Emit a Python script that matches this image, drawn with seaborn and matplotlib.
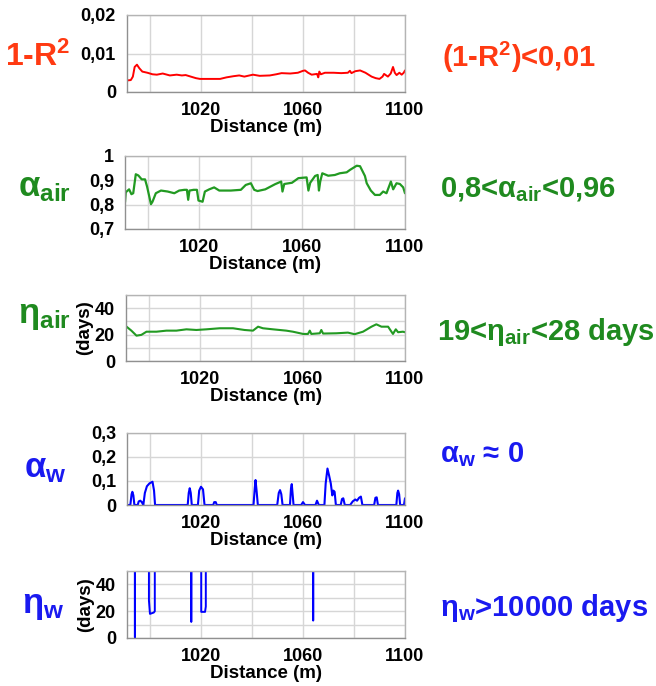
import numpy as np
import matplotlib
matplotlib.use("Agg")
import matplotlib.pyplot as plt
import seaborn as sns
from matplotlib.ticker import FixedLocator, MultipleLocator

# ---- data: distance along the profile (m) and fitted parameters ----
r2_dist = [991.0, 992.5, 993.3, 994.0, 994.9, 995.8, 997.0, 999.0, 1001.0, 1002.7,
           1005.0, 1007.8, 1010.5, 1012.5, 1014.0, 1016.0, 1018.0, 1019.6, 1023.0,
           1027.5, 1030.0, 1032.7, 1035.0, 1037.0, 1040.4, 1043.0, 1047.0, 1049.5,
           1051.6, 1055.0, 1058.0, 1060.0, 1060.8, 1062.0, 1063.4, 1065.5, 1066.0,
           1066.4, 1067.0, 1068.6, 1072.0, 1075.0, 1077.6, 1078.4, 1079.0, 1080.5,
           1082.4, 1084.5, 1086.9, 1088.5, 1090.0, 1091.2, 1091.8, 1093.3, 1094.4,
           1095.3, 1096.0, 1096.7, 1097.8, 1098.7, 1099.5, 1100.0]
one_minus_r2 = [0.0030, 0.0031, 0.0040, 0.0065, 0.0071, 0.0062, 0.0053, 0.0050, 0.0046,
                0.0045, 0.0048, 0.0043, 0.0045, 0.0043, 0.0044, 0.0040, 0.0036, 0.0034,
                0.0034, 0.0034, 0.0038, 0.0041, 0.0043, 0.0040, 0.0045, 0.0042, 0.0043,
                0.0046, 0.0049, 0.0048, 0.0050, 0.0055, 0.0056, 0.0050, 0.0045, 0.0047,
                0.0038, 0.0053, 0.0046, 0.0050, 0.0050, 0.0049, 0.0050, 0.0055, 0.0049,
                0.0054, 0.0056, 0.0050, 0.0040, 0.0036, 0.0034, 0.0040, 0.0047, 0.0040,
                0.0048, 0.0065, 0.0050, 0.0044, 0.0050, 0.0045, 0.0050, 0.0056]

aair_dist = [991.0, 991.3, 992.6, 993.5, 994.2, 995.2, 996.2, 997.5, 998.8, 999.6,
             1000.4, 1001.1, 1001.7, 1003.0, 1005.0, 1007.6, 1010.2, 1012.1, 1014.1,
             1015.1, 1015.6, 1016.1, 1017.7, 1019.0, 1019.6, 1021.2, 1022.1, 1023.8,
             1025.7, 1027.7, 1032.2, 1036.1, 1038.0, 1040.0, 1041.3, 1042.6, 1045.6,
             1049.4, 1051.8, 1052.3, 1053.0, 1056.0, 1058.5, 1061.7, 1062.4, 1063.1,
             1065.0, 1066.0, 1066.5, 1067.0, 1067.8, 1070.1, 1072.7, 1074.6, 1077.3,
             1078.6, 1081.2, 1082.5, 1084.4, 1085.1, 1086.7, 1088.3, 1090.2, 1091.5,
             1092.8, 1094.5, 1095.4, 1096.7, 1098.0, 1099.3, 1100.0]
alpha_air = [0.810, 0.851, 0.863, 0.843, 0.847, 0.925, 0.920, 0.904, 0.904, 0.874,
             0.836, 0.802, 0.812, 0.847, 0.858, 0.854, 0.847, 0.858, 0.861,
             0.861, 0.820, 0.858, 0.861, 0.861, 0.817, 0.812, 0.854, 0.863,
             0.871, 0.858, 0.858, 0.861, 0.881, 0.888, 0.861, 0.856, 0.863,
             0.884, 0.895, 0.854, 0.885, 0.890, 0.909, 0.912, 0.858, 0.890,
             0.918, 0.922, 0.858, 0.895, 0.929, 0.919, 0.922, 0.929, 0.933,
             0.943, 0.960, 0.958, 0.918, 0.888, 0.858, 0.840, 0.840, 0.854,
             0.847, 0.895, 0.863, 0.888, 0.885, 0.871, 0.847]

eair_dist = [990.9, 993.1, 995.1, 997.0, 999.0, 1002.9, 1006.8, 1010.7, 1014.6, 1018.5,
             1022.4, 1027.6, 1032.8, 1037.3, 1040.6, 1042.6, 1044.5, 1048.4, 1053.6,
             1056.2, 1060.2, 1062.1, 1062.8, 1063.4, 1066.7, 1067.3, 1068.0, 1073.2,
             1077.7, 1080.3, 1083.6, 1086.9, 1088.8, 1090.8, 1093.4, 1094.7, 1095.3,
             1096.4, 1097.3, 1099.2, 1100.0]
eta_air = [26.5, 23.0, 19.2, 19.8, 22.2, 22.2, 23.0, 23.0, 24.0, 23.5,
           24.0, 24.8, 24.8, 23.5, 23.0, 26.0, 24.8, 24.0, 23.0,
           22.2, 20.5, 20.5, 23.0, 20.5, 21.0, 23.5, 20.8, 21.0,
           21.5, 20.3, 22.2, 26.0, 27.8, 26.0, 26.0, 22.2, 20.5,
           24.0, 21.8, 22.2, 21.8]

aw_dist = [991.0, 992.3, 992.8, 993.1, 993.5, 993.9, 995.2, 995.6, 996.2, 996.8,
           997.4, 998.0, 998.8, 999.8, 1001.0, 1001.6, 1002.0, 1014.8, 1015.2, 1015.6,
           1016.0, 1016.4, 1018.8, 1019.3, 1020.0, 1020.8, 1021.4, 1024.8, 1025.2,
           1025.8, 1026.2, 1040.6, 1041.1, 1041.4, 1041.8, 1042.3, 1049.9, 1050.5,
           1051.0, 1051.5, 1052.0, 1054.9, 1055.3, 1055.6, 1055.9, 1056.3, 1059.3,
           1060.0, 1060.8, 1064.9, 1065.5, 1066.2, 1068.4, 1068.9, 1069.6, 1070.3,
           1070.9, 1071.5, 1071.9, 1072.4, 1072.9, 1074.8, 1075.3, 1075.8, 1076.4,
           1078.5, 1079.5, 1080.5, 1081.2, 1082.0, 1082.7, 1083.3, 1087.9, 1088.4,
           1088.9, 1089.4, 1096.6, 1097.0, 1097.3, 1097.7, 1098.1, 1099.6, 1100.0]
alpha_w = [0.0, 0.0, 0.045, 0.055, 0.040, 0.0, 0.0, 0.015, 0.018, 0.012,
           0.0, 0.050, 0.078, 0.090, 0.097, 0.060, 0.0, 0.0, 0.050, 0.070,
           0.050, 0.0, 0.0, 0.060, 0.076, 0.065, 0.0, 0.0, 0.012,
           0.012, 0.0, 0.0, 0.070, 0.104, 0.060, 0.0, 0.0, 0.050,
           0.062, 0.045, 0.0, 0.0, 0.070, 0.087, 0.050, 0.0, 0.0,
           0.012, 0.0, 0.0, 0.018, 0.0, 0.0, 0.090, 0.152, 0.120,
           0.090, 0.040, 0.060, 0.055, 0.0, 0.0, 0.025, 0.028, 0.0,
           0.0, 0.015, 0.023, 0.018, 0.030, 0.035, 0.0, 0.0, 0.030,
           0.032, 0.0, 0.0, 0.050, 0.060, 0.045, 0.0, 0.0, 0.028]

# eta_w stays above 10000 days except in a few narrow zones
ew_dist = [991.0, 993.9, 994.1, 994.3, 999.5, 999.6, 1000.0, 1001.5, 1001.9, 1002.0,
           1016.1, 1016.2, 1016.3, 1019.9, 1020.1, 1021.6, 1021.9, 1022.0,
           1063.9, 1064.0, 1064.1, 1100.0]
eta_w = [20000, 20000, 0.5, 20000, 20000, 28, 18, 19, 20, 20000,
         20000, 12, 20000, 20000, 19.5, 19.5, 23.5, 20000,
         20000, 13, 20000, 20000]

# ---- axis ticks ----
x_ticks = [1000, 1020, 1040, 1060, 1080, 1100]
x_labels = ["", "1020", "", "1060", "", "1100"]
r2_ticks, r2_labels = [0, 0.01, 0.02], ["0", "0,01", "0,02"]
aair_ticks, aair_labels = [0.7, 0.8, 0.9, 1.0], ["0,7", "0,8", "0,9", "1"]
days_ticks, days_labels = [0, 20, 40], ["0", "20", "40"]
aw_ticks, aw_labels = [0, 0.1, 0.2, 0.3], ["0", "0,1", "0,2", "0,3"]

RED_LINE, RED_TXT = "#ff0000", "#ff3a12"
GREEN_LINE, GREEN_TXT = "#229a22", "#1f8a1f"
BLUE_LINE, BLUE_TXT = "#0000ff", "#1a1af0"

sns.set_theme(style="white")
plt.rcParams["font.family"] = ["Liberation Sans", "DejaVu Sans"]
plt.rcParams["font.weight"] = "bold"
plt.rcParams["mathtext.fontset"] = "custom"
plt.rcParams["mathtext.rm"] = "Liberation Sans:bold"
plt.rcParams["mathtext.it"] = "Liberation Sans:bold"
plt.rcParams["mathtext.bf"] = "Liberation Sans:bold"

W, H = 656, 686
fig = plt.figure(figsize=(W / 100, H / 100), dpi=100)
fig.patch.set_facecolor("white")


def px_axes(left, top, right, bottom):
    return fig.add_axes([left / W, 1 - bottom / H, (right - left) / W, (bottom - top) / H])


def style_axes(ax, yticks, ylabels, ylim, minor_step, ylabel=None):
    ax.set_xlim(991, 1100)
    ax.set_ylim(*ylim)
    ax.xaxis.set_major_locator(FixedLocator(x_ticks))
    ax.set_xticklabels(x_labels)
    ax.set_yticks(yticks)
    ax.set_yticklabels(ylabels)
    ax.yaxis.set_minor_locator(MultipleLocator(minor_step))
    ax.grid(True, which="both", axis="y", color="#d6d6d6", lw=1.0)
    ax.grid(True, which="major", axis="x", color="#d6d6d6", lw=1.0)
    ax.tick_params(axis="y", which="minor", length=0)
    ax.tick_params(axis="x", length=4, width=1, color="#808080", pad=3,
                   labelsize=13, labelcolor="black")
    ax.tick_params(axis="y", length=3, width=1, color="#303030", pad=5,
                   labelsize=13, labelcolor="black")
    for lab in ax.get_xticklabels() + ax.get_yticklabels():
        lab.set_fontweight("bold")
    for name, sp in ax.spines.items():
        sp.set_visible(True)
        sp.set_color("#b4b4b4" if name in ("top", "right") else "#909090")
        sp.set_linewidth(1.0)
    ax.set_xlabel("Distance (m)", fontsize=13.5, fontweight="bold", labelpad=0, color="black")
    if ylabel:
        ax.set_ylabel(ylabel, fontsize=13.5, fontweight="bold", labelpad=1, color="black")
    else:
        ax.set_ylabel("")
    ax.set_axisbelow(True)


ax1 = px_axes(127, 15, 405, 92)
sns.lineplot(x=r2_dist, y=one_minus_r2, ax=ax1, color=RED_LINE, lw=1.4)
style_axes(ax1, r2_ticks, r2_labels, (0, 0.02), 0.01)

ax2 = px_axes(125, 156, 405, 229)
sns.lineplot(x=aair_dist, y=alpha_air, ax=ax2, color=GREEN_LINE, lw=1.6)
style_axes(ax2, aair_ticks, aair_labels, (0.7, 1.0), 0.1)

ax3 = px_axes(126, 295, 405, 361)
sns.lineplot(x=eair_dist, y=eta_air, ax=ax3, color=GREEN_LINE, lw=1.5)
style_axes(ax3, days_ticks, days_labels, (0, 50), 10, ylabel="(days)")

ax4 = px_axes(127, 433, 405, 505)
sns.lineplot(x=aw_dist, y=alpha_w, ax=ax4, color=BLUE_LINE, lw=1.5)
style_axes(ax4, aw_ticks, aw_labels, (0, 0.3), 0.1)

ax5 = px_axes(127, 571, 405, 638)
sns.lineplot(x=ew_dist, y=eta_w, ax=ax5, color=BLUE_LINE, lw=1.4)
style_axes(ax5, days_ticks, days_labels, (0, 50), 10, ylabel="(days)")


def label(x, y, s, color, size, ha="left"):
    fig.text(x / W, 1 - y / H, s, color=color, fontsize=size, fontweight="bold",
             ha=ha, va="center")


# parameter names on the left
label(5, 57, r"1-R$^{2}$", RED_TXT, 23)
label(18, 188, r"$\mathrm{α_{air}}$", GREEN_TXT, 25)
label(18, 316, r"$\mathrm{η_{air}}$", GREEN_TXT, 25)
label(24, 468, r"$\mathrm{α_{w}}$", BLUE_TXT, 25)
label(22, 606, r"$\mathrm{η_{w}}$", BLUE_TXT, 25)

# value ranges on the right
label(442, 57, r"(1-R$^{2}$)<0,01", RED_TXT, 21)
label(440, 190, r"0,8<$\mathrm{α_{air}}$<0,96", GREEN_TXT, 21)
label(437, 332, r"19<$\mathrm{η_{air}}$<28 days", GREEN_TXT, 21)
label(440, 455, r"$\mathrm{α_{w}}$ ≈ 0", BLUE_TXT, 21)
label(440, 608, r"$\mathrm{η_{w}}$>10000 days", BLUE_TXT, 21)

fig.savefig("out.png", dpi=100, facecolor="white")
